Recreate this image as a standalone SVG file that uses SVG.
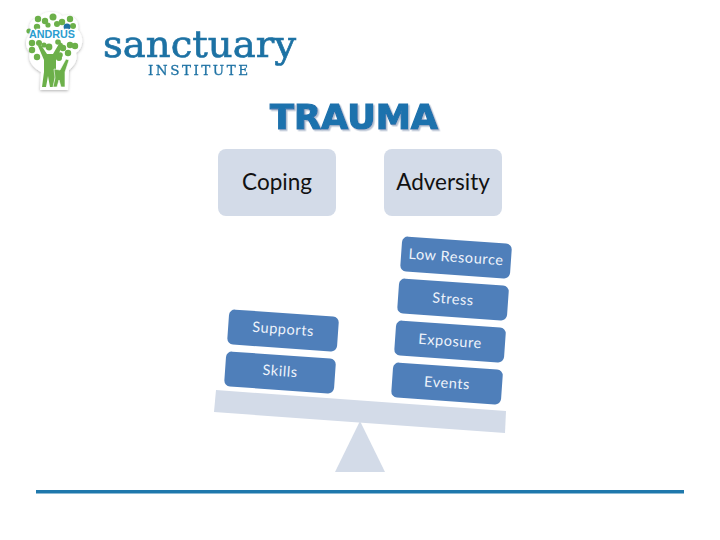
<svg xmlns="http://www.w3.org/2000/svg" width="720" height="540" viewBox="0 0 720 540">
<defs>
<filter id="halo" x="-15%" y="-15%" width="130%" height="130%"><feDropShadow dx="0" dy="1" stdDeviation="1.800" flood-color="#000" flood-opacity="0.3"/></filter>
<filter id="soft" x="-5%" y="-5%" width="110%" height="110%"><feGaussianBlur stdDeviation="0.3"/></filter>
<filter id="titleshadow" x="-5%" y="-10%" width="110%" height="125%"><feDropShadow dx="1.500" dy="1.500" stdDeviation="0.400" flood-color="#b4bfd0"/></filter>
</defs>
<style>
.top{fill:#d3dbe8}
.toplabel{font-size:22.500px;fill:#111;text-anchor:middle;font-family:"Lato","Open Sans",sans-serif}
.blk{fill:#4f7fba}
.blklabel{font-size:14.500px;letter-spacing:0.600px;fill:#eef3fa;text-anchor:middle;font-family:"Lato","Open Sans",sans-serif}
.lf{fill:#6cb04a}
.serif{font-family:"DejaVu Serif","Liberation Serif",serif;fill:#1f72a4;stroke:#1f72a4}
</style>
<g id="logo-tree">
<path d="M31 33C27 24 32 18 39 18C43 10 58 11 62 16C72 13 80 20 78 30C84 36 84 48 76 53C79 60 72 68 69 70L68 90L40 90L41 72C33 68 27 60 30 52C24 46 25 38 31 33Z" fill="#fff" filter="url(#halo)"/>
<g class="lf">
<circle cx="38" cy="19" r="3.200"/><circle cx="45" cy="21" r="3.200"/><circle cx="53" cy="17" r="3.500"/><circle cx="62" cy="22" r="3.200"/><circle cx="70" cy="19" r="3.200"/><circle cx="37" cy="27" r="3.200"/><circle cx="48" cy="25" r="2.600"/><circle cx="57" cy="24" r="3"/><circle cx="73" cy="26" r="3"/><circle cx="29" cy="31" r="2.600"/>
<circle cx="32" cy="43" r="3.200"/><circle cx="39" cy="43" r="3"/><circle cx="32" cy="50" r="3.200"/><circle cx="37" cy="57" r="3.200"/><circle cx="44" cy="45" r="2.600"/>
<circle cx="58" cy="42" r="2.800"/><circle cx="70" cy="45" r="3.200"/><circle cx="75" cy="46" r="3.200"/><circle cx="63" cy="48" r="3.200"/><circle cx="68" cy="53" r="3.200"/><circle cx="60" cy="55" r="2.800"/>
<circle cx="49" cy="47" r="3.400"/><circle cx="59" cy="58" r="3"/>
<path d="M38 46L41 45L47 54L53 54L60 42L63 44L56 60L56 72L53 87L50 87L48 76L46 87L42 87L44 72L44 60Z"/>
<path d="M54 69L60 70L66 59L69 60L65 72L65 87L61 87L59 80L57 87L53 87L55 78Z" stroke="#fff" stroke-width="0.600"/>
</g>
<circle cx="67" cy="27" r="3.400" fill="#1f72a4"/>
<text x="52" y="38" font-size="10.500" font-weight="700" fill="#2a9dcf" text-anchor="middle" font-family="Liberation Sans,sans-serif" stroke="#fff" stroke-width="2.500" paint-order="stroke" textLength="46" lengthAdjust="spacingAndGlyphs">ANDRUS</text>
</g>
<g id="logo-wordmark" filter="url(#soft)">
<text class="serif" x="103" y="57" font-size="38" stroke-width="0.700" textLength="193" lengthAdjust="spacingAndGlyphs">sanctuary</text>
<text class="serif" x="148" y="75" font-size="13.500" stroke-width="0.300" textLength="100" lengthAdjust="spacing">INSTITUTE</text>
</g>
<g id="title">
<text x="354" y="129" font-size="34" font-weight="700" text-anchor="middle" font-family="DejaVu Sans,sans-serif" fill="#1f72ad" stroke="#1f72ad" stroke-width="1.200" filter="url(#titleshadow)" textLength="168" lengthAdjust="spacingAndGlyphs">TRAUMA</text>
</g>
<g id="coping"><rect class="top" x="218" y="149" width="118" height="67" rx="8"/><text class="toplabel" x="277" y="190">Coping</text></g>
<g id="adversity"><rect class="top" x="384" y="149" width="118" height="67" rx="8"/><text class="toplabel" x="443" y="190">Adversity</text></g>
<g id="low-resource" transform="translate(456 258) rotate(4)"><rect class="blk" x="-55" y="-18" width="110" height="35" rx="6"/><text class="blklabel" y="4">Low Resource</text></g>
<g id="stress" transform="translate(453 300) rotate(4)"><rect class="blk" x="-55" y="-18" width="110" height="35" rx="6"/><text class="blklabel" y="4">Stress</text></g>
<g id="exposure" transform="translate(450 342) rotate(4)"><rect class="blk" x="-55" y="-18" width="110" height="35" rx="6"/><text class="blklabel" y="4">Exposure</text></g>
<g id="events" transform="translate(447 384) rotate(4)"><rect class="blk" x="-55" y="-18" width="110" height="35" rx="6"/><text class="blklabel" y="4">Events</text></g>
<g id="supports" transform="translate(283 331) rotate(4)"><rect class="blk" x="-55" y="-18" width="110" height="35" rx="6"/><text class="blklabel" y="3">Supports</text></g>
<g id="skills" transform="translate(280 373) rotate(4)"><rect class="blk" x="-55" y="-18" width="110" height="35" rx="6"/><text class="blklabel" y="3">Skills</text></g>
<g id="beam"><polygon class="top" points="216,390 506,411 505,433 214,412"/></g>
<g id="fulcrum"><polygon class="top" points="360,421 385,472 335,472"/></g>
<g id="rule"><rect x="36" y="490" width="648" height="3.500" fill="#1f78ac"/></g>
</svg>
